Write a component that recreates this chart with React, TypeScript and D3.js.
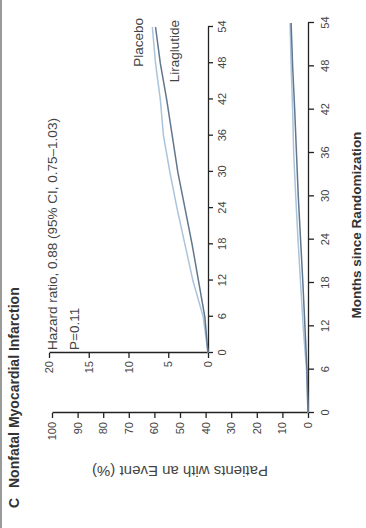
import React, { useEffect, useRef } from 'react';
import * as d3 from 'd3';

// months since randomization
const months = [0, 6, 12, 18, 24, 30, 36, 42, 48, 54];
const placebo = [0, 0.6, 1.9, 2.9, 3.9, 4.8, 5.6, 6.0, 6.6, 7.0];
const liraglutide = [0, 0.4, 1.2, 2.0, 2.9, 3.8, 4.5, 5.2, 6.0, 6.6];

const monthTicks = [0, 6, 12, 18, 24, 30, 36, 42, 48, 54];
const mainTicks = [0, 10, 20, 30, 40, 50, 60, 70, 80, 90, 100];
const insetTicks = [0, 5, 10, 15, 20];

const title = 'Nonfatal Myocardial Infarction';
const hrText = 'Hazard ratio, 0.88 (95% CI, 0.75\u20131.03)';
const pText = 'P=0.11';

const W = 528; // chart is drawn upright then turned a quarter left
const H = 366;
const font = 'Liberation Sans, Arial, sans-serif';
const placeboColor = '#aac4dc';
const liraColor = '#62768c';

export default function App() {
    const ref = useRef<SVGSVGElement>(null);

    useEffect(() => {
        const svg = d3.select(ref.current);
        svg.selectAll('*').remove();

        svg.append('rect').attr('width', H).attr('height', W).attr('fill', '#fff');
        svg.append('rect').attr('x', 0).attr('y', 0).attr('width', 2).attr('height', W).attr('fill', '#9a9a9a');

        const g = svg.append('g')
            .attr('transform', `translate(0,${W}) rotate(-90)`)
            .style('font-family', font);

        // scales
        const xMain = d3.scaleLinear().domain([0, 54]).range([115, 505]);
        const yMain = d3.scaleLinear().domain([0, 100]).range([308, 52]);
        const xIn = d3.scaleLinear().domain([0, 54]).range([175, 501]);
        const yIn = d3.scaleLinear().domain([0, 20]).range([208, 49]);

        //title
        g.append('text').attr('x', 20).attr('y', 19)
            .attr('font-size', 14).attr('font-weight', 'bold').attr('fill', '#333')
            .text('C');
        g.append('text').attr('x', 40).attr('y', 19)
            .attr('font-size', 14).attr('font-weight', 'bold').attr('fill', '#333')
            .text(title);

        const styleAxis = (sel: any, size: number) => {
            sel.select('.domain').attr('stroke', '#222').attr('stroke-width', 1.3);
            sel.selectAll('.tick line').attr('stroke', '#222').attr('stroke-width', 1.3);
            sel.selectAll('.tick text').attr('fill', '#444').attr('font-size', size).style('font-family', font);
        };

        // main axes
        const mx = g.append('g').attr('transform', `translate(0,${yMain(0)})`)
            .call(d3.axisBottom(xMain).tickValues(monthTicks).tickSize(6).tickSizeOuter(0).tickPadding(7));
        styleAxis(mx, 11);
        const my = g.append('g').attr('transform', `translate(${xMain(0)},0)`)
            .call(d3.axisLeft(yMain).tickValues(mainTicks).tickSize(5).tickSizeOuter(0).tickPadding(4));
        styleAxis(my, 11);

        // inset axes
        const ix = g.append('g').attr('transform', `translate(0,${yIn(0)})`)
            .call(d3.axisBottom(xIn).tickValues(monthTicks).tickSize(5).tickSizeOuter(0).tickPadding(5));
        styleAxis(ix, 11);
        const iy = g.append('g').attr('transform', `translate(${xIn(0)},0)`)
            .call(d3.axisLeft(yIn).tickValues(insetTicks).tickSize(5).tickSizeOuter(0).tickPadding(3));
        styleAxis(iy, 11);

        // axis titles
        g.append('text').attr('x', 303).attr('y', 361)
            .attr('text-anchor', 'middle').attr('font-size', 13.5).attr('font-weight', 'bold').attr('fill', '#333')
            .text('Months since Randomization');
        g.append('text')
            .attr('transform', `translate(62,${(yMain(0) + yMain(100)) / 2}) rotate(-90)`)
            .attr('text-anchor', 'middle').attr('font-size', 15).attr('fill', '#444')
            .text('Patients with an Event (%)');

        // lines
        const rows = months.map((m, i) => ({ m, p: placebo[i], l: liraglutide[i] }));
        const draw = (xs: any, ys: any, key: 'p' | 'l', color: string) => {
            const line = d3.line<any>().x(d => xs(d.m)).y(d => ys(d[key]));
            g.append('path').attr('d', line(rows)).attr('fill', 'none')
                .attr('stroke', color).attr('stroke-width', 1.5);
        };
        draw(xMain, yMain, 'p', placeboColor);
        draw(xMain, yMain, 'l', liraColor);
        draw(xIn, yIn, 'p', placeboColor);
        draw(xIn, yIn, 'l', liraColor);

        // inset labels
        g.append('text').attr('x', 510).attr('y', 143).attr('text-anchor', 'end')
            .attr('font-size', 13.5).attr('fill', '#444').text('Placebo');
        g.append('text').attr('x', 508).attr('y', 179).attr('text-anchor', 'end')
            .attr('font-size', 13.5).attr('fill', '#444').text('Liraglutide');

        g.append('text').attr('x', xIn(0) + 3).attr('y', 57)
            .attr('font-size', 13.5).attr('fill', '#444').text(hrText);
        g.append('text').attr('x', xIn(0) + 3).attr('y', 79)
            .attr('font-size', 13.5).attr('fill', '#444').text(pText);
    }, []);

    return (
        <svg ref={ref} width={H} height={W}
            style={{ position: 'absolute', left: 0, top: 0, display: 'block' }} />
    );
}
